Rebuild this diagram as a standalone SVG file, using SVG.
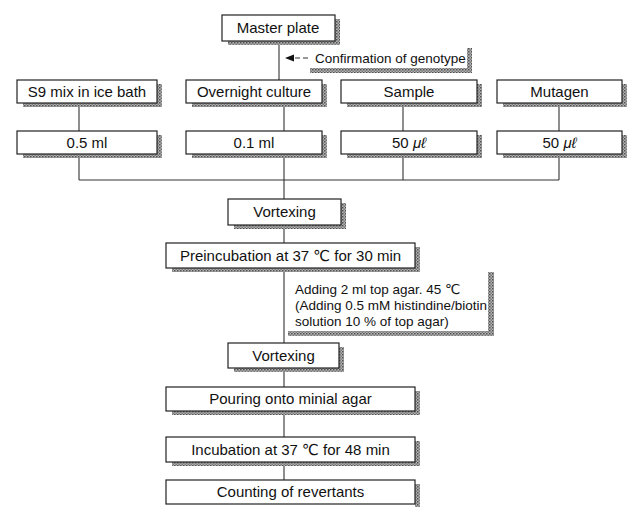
<svg xmlns="http://www.w3.org/2000/svg" width="629" height="507" viewBox="0 0 629 507">
<defs>
<pattern id="ht" width="3" height="3" patternUnits="userSpaceOnUse"><rect width="3" height="3" fill="#b4b4b4"/><rect width="1.5" height="1.5" fill="#505050"/><rect x="1.5" y="1.5" width="1.5" height="1.5" fill="#7a7a7a"/></pattern>
</defs>
<style>
.box{fill:#fff;stroke:#222;stroke-width:1.2}
.sh{fill:url(#ht)}
.t{font-family:"Liberation Sans","DejaVu Sans","Noto Sans CJK KR",sans-serif;font-size:15px;fill:#111;text-anchor:middle}
.a{font-family:"Liberation Sans","DejaVu Sans","Noto Sans CJK KR",sans-serif;font-size:13.5px;fill:#111}
.c{fill:none;stroke:#333;stroke-width:1.1}
</style>
<rect width="629" height="507" fill="#fff"/>
<g id="connectors">
<path class="c" d="M279,41 V80"/>
<path class="c" d="M79,103 V131 M79,154 V180 M284,103 V131 M284,154 V199 M403,103 V131 M403,154 V180 M559,103 V131 M559,154 V180 M79,180 H559"/>
<path class="c" d="M284,225 V243 M284,268 V343 M284,368 V387 M284,411 V437 M284,462 V480"/>
<path class="c" d="M308,58 H293" stroke-dasharray="5,3"/>
<polygon points="285,58 294,54.5 294,61.5" fill="#111"/>
</g>
<g id="confirmation">
<rect class="sh" x="467" y="48" width="5" height="25"/>
<rect class="sh" x="310" y="68" width="162" height="5"/>
<text class="a" x="315" y="63">Confirmation of genotype</text>
</g>
<g id="master">
<rect class="sh" x="335" y="19" width="5" height="26"/><rect class="sh" x="228" y="41" width="112" height="4"/>
<rect class="box" x="222" y="15" width="113" height="26"/>
<text class="t" x="278" y="33">Master plate</text>
</g>
<g id="s9">
<rect class="sh" x="157" y="84" width="5" height="23"/><rect class="sh" x="23" y="103" width="139" height="4"/>
<rect class="box" x="17" y="80" width="140" height="23"/>
<text class="t" x="87" y="97">S9 mix in ice bath</text>
</g>
<g id="overnight">
<rect class="sh" x="322" y="84" width="5" height="23"/><rect class="sh" x="192" y="103" width="135" height="4"/>
<rect class="box" x="186" y="80" width="136" height="23"/>
<text class="t" x="254" y="97">Overnight culture</text>
</g>
<g id="sample">
<rect class="sh" x="477" y="84" width="5" height="23"/><rect class="sh" x="347" y="103" width="135" height="4"/>
<rect class="box" x="341" y="80" width="136" height="23"/>
<text class="t" x="409" y="97">Sample</text>
</g>
<g id="mutagen">
<rect class="sh" x="622" y="84" width="5" height="23"/><rect class="sh" x="503" y="103" width="124" height="4"/>
<rect class="box" x="497" y="80" width="125" height="23"/>
<text class="t" x="559.5" y="97">Mutagen</text>
</g>
<g id="v05">
<rect class="sh" x="157" y="135" width="5" height="23"/><rect class="sh" x="23" y="154" width="139" height="4"/>
<rect class="box" x="17" y="131" width="140" height="23"/>
<text class="t" x="87" y="148">0.5 ml</text>
</g>
<g id="v01">
<rect class="sh" x="322" y="135" width="5" height="23"/><rect class="sh" x="192" y="154" width="135" height="4"/>
<rect class="box" x="186" y="131" width="136" height="23"/>
<text class="t" x="254" y="148">0.1 ml</text>
</g>
<g id="v50a">
<rect class="sh" x="477" y="135" width="5" height="23"/><rect class="sh" x="347" y="154" width="135" height="4"/>
<rect class="box" x="341" y="131" width="136" height="23"/>
<text class="t" x="409" y="148">50 <tspan font-style="italic">μℓ</tspan></text>
</g>
<g id="v50b">
<rect class="sh" x="622" y="135" width="5" height="23"/><rect class="sh" x="503" y="154" width="124" height="4"/>
<rect class="box" x="497" y="131" width="125" height="23"/>
<text class="t" x="559.5" y="148">50 <tspan font-style="italic">μℓ</tspan></text>
</g>
<g id="vortex1">
<rect class="sh" x="341" y="203" width="5" height="26"/><rect class="sh" x="234" y="225" width="112" height="4"/>
<rect class="box" x="228" y="199" width="113" height="26"/>
<text class="t" x="284.5" y="217">Vortexing</text>
</g>
<g id="preinc">
<rect class="sh" x="415" y="247" width="5" height="25"/><rect class="sh" x="172" y="268" width="248" height="4"/>
<rect class="box" x="166" y="243" width="249" height="25"/>
<text class="t" x="290.5" y="261">Preincubation at 37 ℃ for 30 min</text>
</g>
<g id="adding">
<rect class="sh" x="488" y="272" width="6" height="64"/>
<rect class="sh" x="288" y="331" width="206" height="5"/>
<text class="a" x="295" y="294">Adding 2 ml top agar. 45 ℃</text>
<text class="a" x="295" y="310">(Adding 0.5 mM histindine/biotin</text>
<text class="a" x="295" y="326">solution 10 % of top agar)</text>
</g>
<g id="vortex2">
<rect class="sh" x="339" y="347" width="5" height="25"/><rect class="sh" x="234" y="368" width="110" height="4"/>
<rect class="box" x="228" y="343" width="111" height="25"/>
<text class="t" x="283.5" y="361">Vortexing</text>
</g>
<g id="pouring">
<rect class="sh" x="415" y="391" width="5" height="24"/><rect class="sh" x="172" y="411" width="248" height="4"/>
<rect class="box" x="166" y="387" width="249" height="24"/>
<text class="t" x="290.5" y="404">Pouring onto minial agar</text>
</g>
<g id="incubation">
<rect class="sh" x="415" y="441" width="5" height="25"/><rect class="sh" x="172" y="462" width="248" height="4"/>
<rect class="box" x="166" y="437" width="249" height="25"/>
<text class="t" x="290.5" y="455">Incubation at 37 ℃ for 48 min</text>
</g>
<g id="counting">
<rect class="sh" x="415" y="484" width="5" height="23"/>
<rect class="box" x="166" y="480" width="249" height="24"/>
<text class="t" x="290.5" y="497">Counting of revertants</text>
</g>
</svg>
